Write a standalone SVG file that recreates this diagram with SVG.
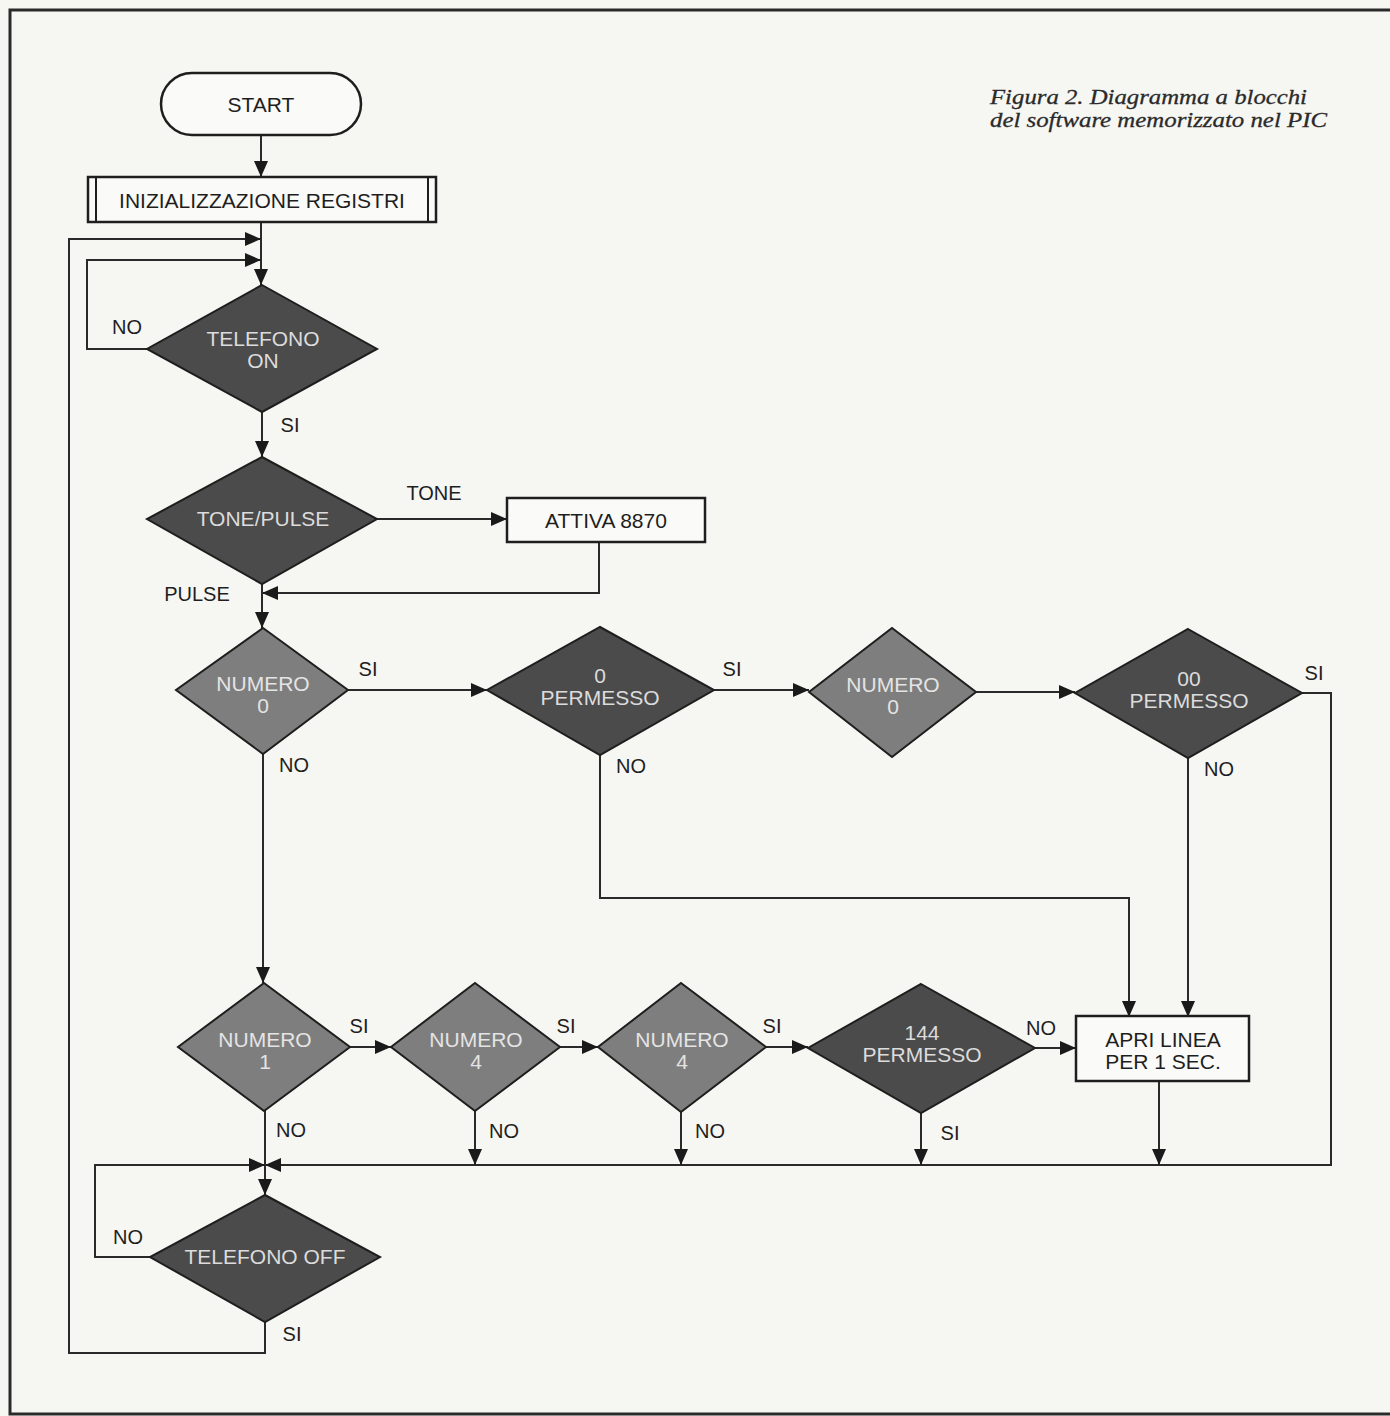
<svg xmlns="http://www.w3.org/2000/svg" width="1390" height="1416" viewBox="0 0 1390 1416">
<style>
.bg{fill:#f6f6f3}
.frame{fill:none;stroke:#2a2a2a;stroke-width:3}
.box{fill:#fafaf8;stroke:#1e1e1e;stroke-width:2.5}
.dk{fill:#4b4b4b;stroke:#1e1e1e;stroke-width:2}
.md{fill:#7e7e7e;stroke:#1e1e1e;stroke-width:2}
.t{font-family:"Liberation Sans",Arial,sans-serif;font-size:21px;fill:#1e1e1e;text-anchor:middle}
.lbl{font-family:"Liberation Sans",Arial,sans-serif;font-size:20px;fill:#1e1e1e;text-anchor:middle}
.dt{font-family:"Liberation Sans",Arial,sans-serif;font-size:21px;fill:#dcdcdc;text-anchor:middle}
.mt{font-family:"Liberation Sans",Arial,sans-serif;font-size:21px;fill:#e4e4e4;text-anchor:middle}
.title{font-family:"Liberation Serif","Times New Roman",serif;font-style:italic;font-size:22px;fill:#2a2a2a;stroke:#2a2a2a;stroke-width:0.3}
.c path{fill:none;stroke:#2a2a2a;stroke-width:2}
</style>
<defs>
<marker id="a" viewBox="0 0 16 14" refX="16" refY="7" markerWidth="17" markerHeight="14" markerUnits="userSpaceOnUse" orient="auto">
<path d="M0,0 L16,7 L0,14 z" fill="#1a1a1a"/>
</marker>
</defs>
<rect class="bg" x="0" y="0" width="1390" height="1416"/>
<rect class="frame" x="10" y="10" width="1395" height="1404"/>

<g id="title">
<text class="title" x="990" y="104" textLength="317" lengthAdjust="spacingAndGlyphs">Figura 2. Diagramma a blocchi</text>
<text class="title" x="990" y="127" textLength="337" lengthAdjust="spacingAndGlyphs">del software memorizzato nel PIC</text>
</g>

<g class="c" id="connectors">
<path d="M261,135 V177" marker-end="url(#a)"/>
<path d="M261,222 V285" marker-end="url(#a)"/>
<path d="M265,1322 V1353 H69 V239 H261" marker-end="url(#a)"/>
<path d="M147,349 H87 V260 H261" marker-end="url(#a)"/>
<path d="M262,412 V457" marker-end="url(#a)"/>
<path d="M377,519 H507" marker-end="url(#a)"/>
<path d="M599,542 V593 H262" marker-end="url(#a)"/>
<path d="M262,584 V628" marker-end="url(#a)"/>
<path d="M348,690 H487" marker-end="url(#a)"/>
<path d="M714,690 H809" marker-end="url(#a)"/>
<path d="M976,692 H1075" marker-end="url(#a)"/>
<path d="M1302,693 H1331 V1165 H265" marker-end="url(#a)"/>
<path d="M1188,758 V1017" marker-end="url(#a)"/>
<path d="M600,755 V898 H1129 V1017" marker-end="url(#a)"/>
<path d="M263,754 V983" marker-end="url(#a)"/>
<path d="M350,1047 H391" marker-end="url(#a)"/>
<path d="M560,1047 H598" marker-end="url(#a)"/>
<path d="M766,1047 H808" marker-end="url(#a)"/>
<path d="M1035,1048 H1076" marker-end="url(#a)"/>
<path d="M1159,1081 V1165" marker-end="url(#a)"/>
<path d="M265,1111 V1195" marker-end="url(#a)"/>
<path d="M475,1111 V1165" marker-end="url(#a)"/>
<path d="M681,1112 V1165" marker-end="url(#a)"/>
<path d="M921,1113 V1165" marker-end="url(#a)"/>
<path d="M150,1257 H95 V1165 H265" marker-end="url(#a)"/>
</g>

<g id="labels">
<text class="lbl" x="127" y="334">NO</text>
<text class="lbl" x="290" y="432">SI</text>
<text class="lbl" x="434" y="500">TONE</text>
<text class="lbl" x="197" y="601">PULSE</text>
<text class="lbl" x="368" y="676">SI</text>
<text class="lbl" x="294" y="772">NO</text>
<text class="lbl" x="732" y="676">SI</text>
<text class="lbl" x="631" y="773">NO</text>
<text class="lbl" x="1314" y="680">SI</text>
<text class="lbl" x="1219" y="776">NO</text>
<text class="lbl" x="359" y="1033">SI</text>
<text class="lbl" x="566" y="1033">SI</text>
<text class="lbl" x="772" y="1033">SI</text>
<text class="lbl" x="1041" y="1035">NO</text>
<text class="lbl" x="291" y="1137">NO</text>
<text class="lbl" x="504" y="1138">NO</text>
<text class="lbl" x="710" y="1138">NO</text>
<text class="lbl" x="950" y="1140">SI</text>
<text class="lbl" x="128" y="1244">NO</text>
<text class="lbl" x="292" y="1341">SI</text>
</g>

<g id="start">
<rect class="box" x="161" y="73" width="200" height="62" rx="31"/>
<text class="t" x="261" y="112">START</text>
</g>
<g id="init">
<rect class="box" x="88" y="177" width="348" height="45"/>
<path d="M96,177 V222 M428,177 V222" stroke="#1e1e1e" stroke-width="2"/>
<text class="t" x="262" y="208">INIZIALIZZAZIONE REGISTRI</text>
</g>
<g id="telefono-on">
<polygon class="dk" points="262,285 377,349 262,412 147,349"/>
<text class="dt" x="263" y="346">TELEFONO</text>
<text class="dt" x="263" y="368">ON</text>
</g>
<g id="tone-pulse">
<polygon class="dk" points="262,457 377,519 262,584 147,519"/>
<text class="dt" x="263" y="526">TONE/PULSE</text>
</g>
<g id="attiva">
<rect class="box" x="507" y="498" width="198" height="44"/>
<text class="t" x="606" y="528">ATTIVA 8870</text>
</g>
<g id="numero0a">
<polygon class="md" points="263,628 348,690 263,754 176,690"/>
<text class="mt" x="263" y="691">NUMERO</text>
<text class="mt" x="263" y="713">0</text>
</g>
<g id="permesso0">
<polygon class="dk" points="600,627 714,690 600,755 487,690"/>
<text class="dt" x="600" y="683">0</text>
<text class="dt" x="600" y="705">PERMESSO</text>
</g>
<g id="numero0b">
<polygon class="md" points="892,628 976,692 892,757 809,692"/>
<text class="mt" x="893" y="692">NUMERO</text>
<text class="mt" x="893" y="714">0</text>
</g>
<g id="permesso00">
<polygon class="dk" points="1188,629 1302,693 1188,758 1075,693"/>
<text class="dt" x="1189" y="686">00</text>
<text class="dt" x="1189" y="708">PERMESSO</text>
</g>
<g id="numero1">
<polygon class="md" points="264,983 350,1047 264,1111 178,1047"/>
<text class="mt" x="265" y="1047">NUMERO</text>
<text class="mt" x="265" y="1069">1</text>
</g>
<g id="numero4a">
<polygon class="md" points="475,983 560,1047 475,1111 391,1047"/>
<text class="mt" x="476" y="1047">NUMERO</text>
<text class="mt" x="476" y="1069">4</text>
</g>
<g id="numero4b">
<polygon class="md" points="681,983 766,1047 681,1112 598,1047"/>
<text class="mt" x="682" y="1047">NUMERO</text>
<text class="mt" x="682" y="1069">4</text>
</g>
<g id="permesso144">
<polygon class="dk" points="921,984 1035,1048 921,1113 808,1048"/>
<text class="dt" x="922" y="1040">144</text>
<text class="dt" x="922" y="1062">PERMESSO</text>
</g>
<g id="apri">
<rect class="box" x="1076" y="1016" width="173" height="65"/>
<text class="t" x="1163" y="1047">APRI LINEA</text>
<text class="t" x="1163" y="1069">PER 1 SEC.</text>
</g>
<g id="telefono-off">
<polygon class="dk" points="265,1195 380,1257 265,1322 150,1257"/>
<text class="dt" x="265" y="1264">TELEFONO OFF</text>
</g>
</svg>
